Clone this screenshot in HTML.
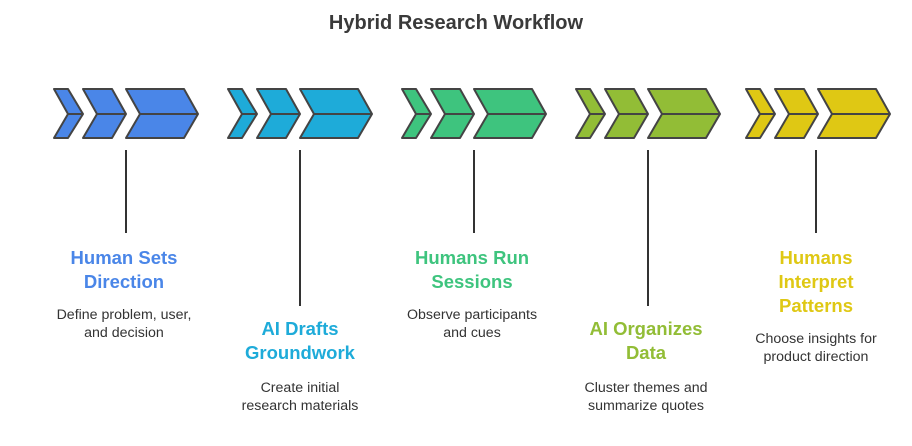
<!DOCTYPE html>
<html><head><style>
body{margin:0;width:912px;height:441px;background:#fff;overflow:hidden;font-family:"Liberation Sans",Arial,sans-serif;}
</style></head><body>
<svg width="912" height="441" xmlns="http://www.w3.org/2000/svg" font-family="Liberation Sans, Arial, sans-serif">
<text x="456" y="29" text-anchor="middle" font-size="20" font-weight="bold" fill="#3a3a3a">Hybrid Research Workflow</text>
<defs>
<g id="ch" stroke="#444" stroke-width="2" stroke-linejoin="round">
<path d="M0,0 H14 L29,25 L14,49 H0 L14,25 Z"/>
<path d="M29,0 H58 L72,25 L58,49 H29 L43,25 Z"/>
<path d="M72,0 H130 L144,25 L130,49 H72 L86,25 Z"/>
<path d="M14,25 H29 M43,25 H72 M86,25 H144" fill="none"/>
</g>
</defs>
<use href="#ch" x="54" y="89" fill="#4a86e8"/>
<use href="#ch" x="228" y="89" fill="#1eabd9"/>
<use href="#ch" x="402" y="89" fill="#3ec47e"/>
<use href="#ch" x="576" y="89" fill="#92bd36"/>
<use href="#ch" x="746" y="89" fill="#dfc814"/>
<g stroke="#333" stroke-width="2">
<line x1="126" y1="150" x2="126" y2="233"/>
<line x1="300" y1="150" x2="300" y2="306"/>
<line x1="474" y1="150" x2="474" y2="233"/>
<line x1="648" y1="150" x2="648" y2="306"/>
<line x1="816" y1="150" x2="816" y2="233"/>
</g>
<g font-size="18.5" font-weight="bold" text-anchor="middle">
<text x="124" y="264" fill="#4a86e8">Human Sets</text><text x="124" y="288" fill="#4a86e8">Direction</text>
<text x="300" y="335" fill="#1eabd9">AI Drafts</text><text x="300" y="359" fill="#1eabd9">Groundwork</text>
<text x="472" y="264" fill="#3ec47e">Humans Run</text><text x="472" y="288" fill="#3ec47e">Sessions</text>
<text x="646" y="335" fill="#92bd36">AI Organizes</text><text x="646" y="359" fill="#92bd36">Data</text>
<text x="816" y="264" fill="#dfc814">Humans</text><text x="816" y="288" fill="#dfc814">Interpret</text><text x="816" y="312" fill="#dfc814">Patterns</text>
</g>
<g font-size="14.2" fill="#333" text-anchor="middle">
<text x="124" y="319">Define problem, user,</text><text x="124" y="337">and decision</text>
<text x="300" y="392">Create initial</text><text x="300" y="410">research materials</text>
<text x="472" y="319">Observe participants</text><text x="472" y="337">and cues</text>
<text x="646" y="392">Cluster themes and</text><text x="646" y="410">summarize quotes</text>
<text x="816" y="343">Choose insights for</text><text x="816" y="361">product direction</text>
</g>
</svg>
</body></html>
